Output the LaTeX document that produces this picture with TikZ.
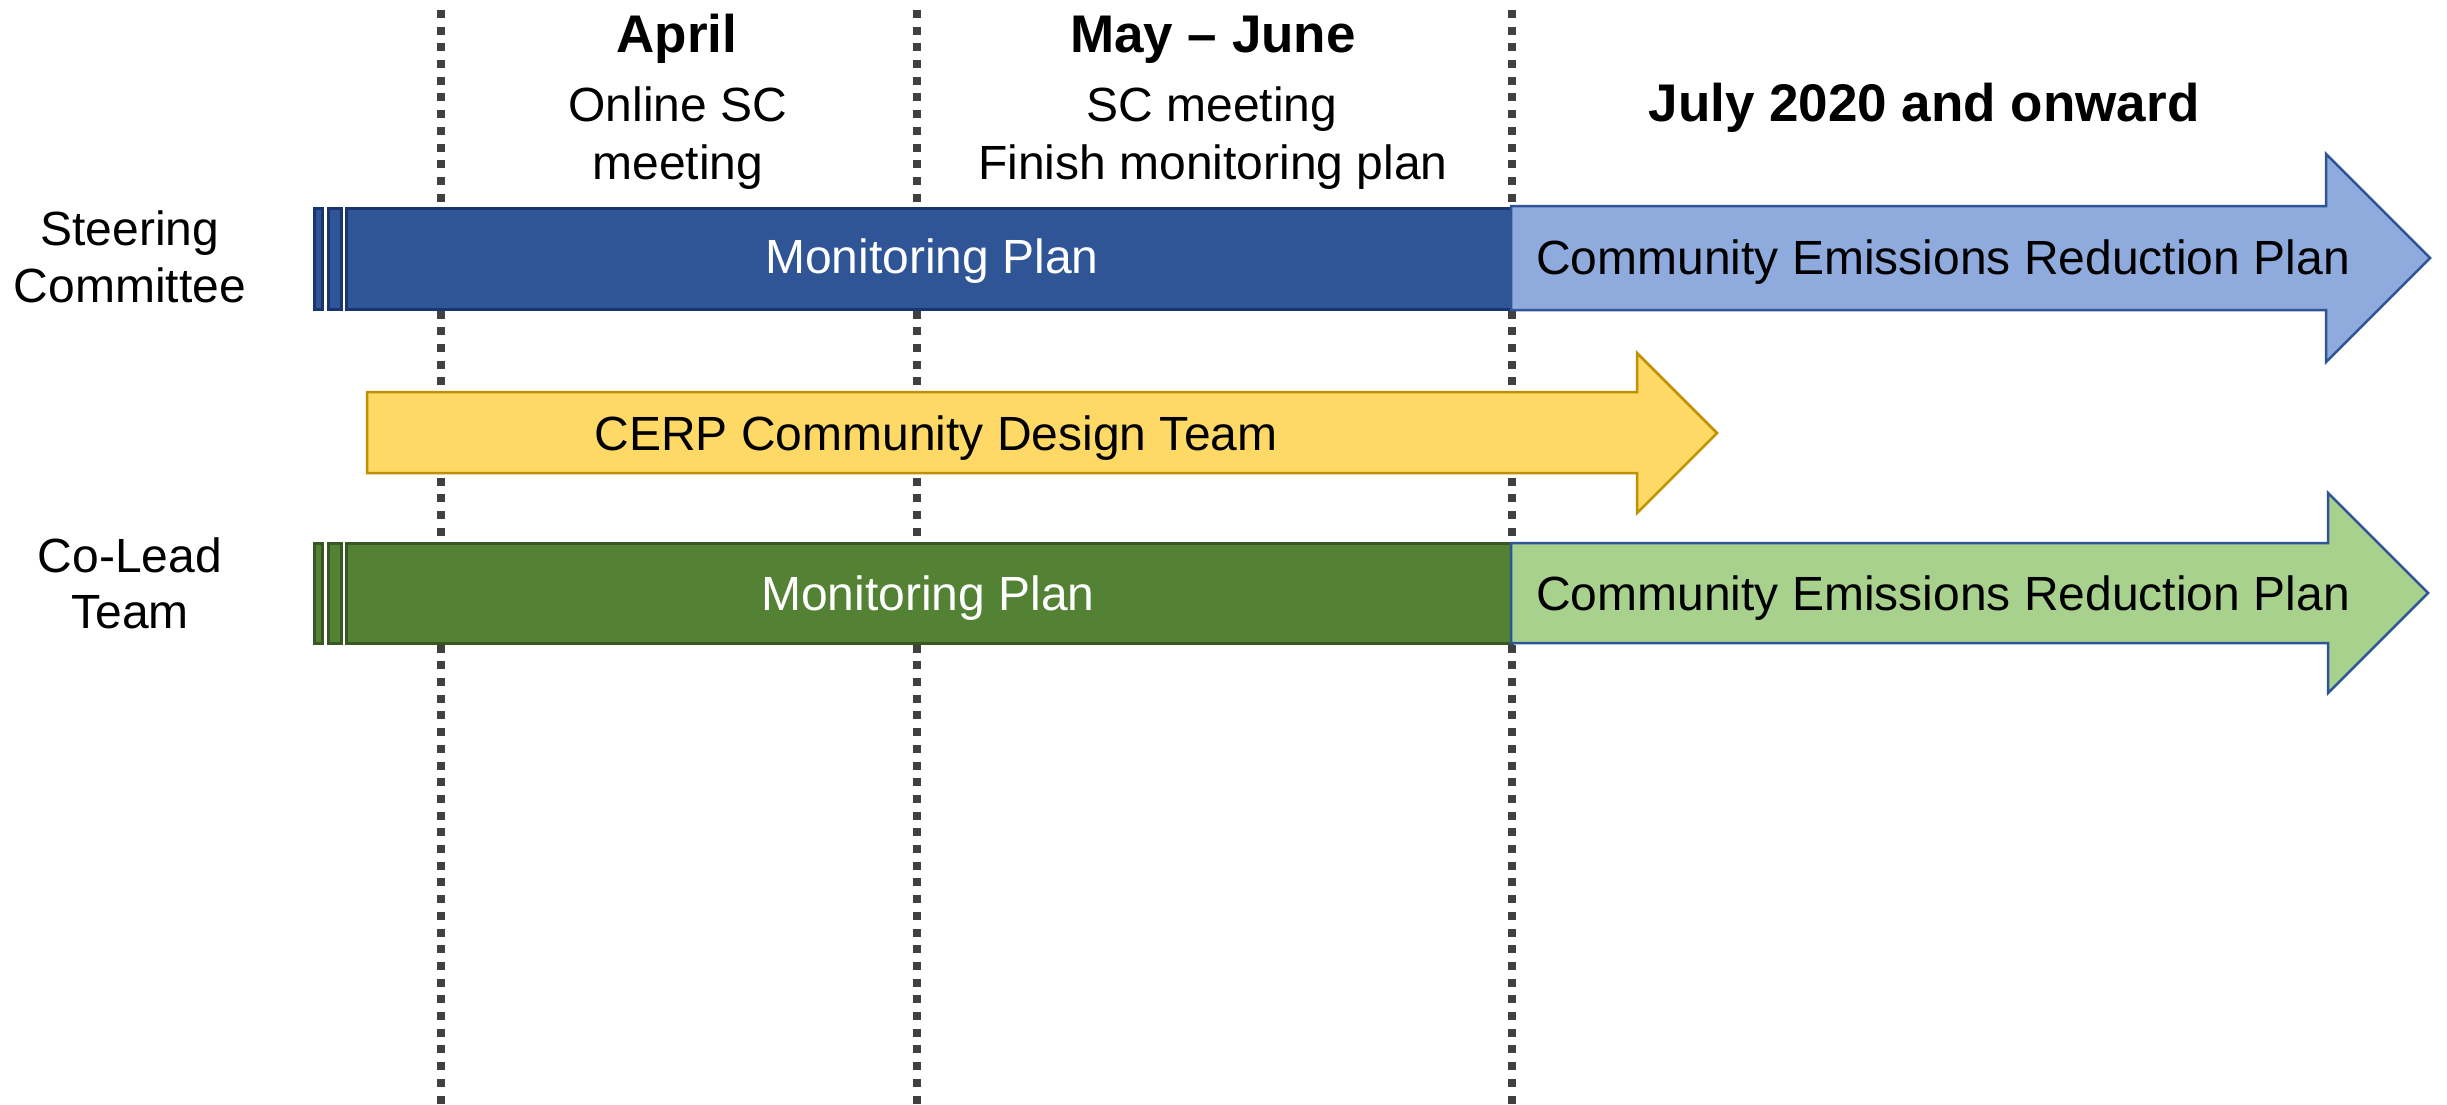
\documentclass[tikz,border=0pt]{standalone}
\usepackage{fontspec}
\setmainfont{Liberation Sans}
\definecolor{dkblue}{HTML}{2F5597}
\definecolor{dkblueline}{HTML}{1A3470}
\definecolor{ltblue}{HTML}{8FAADC}
\definecolor{dkgreen}{HTML}{548235}
\definecolor{dkgreenline}{HTML}{385723}
\definecolor{ltgreen}{HTML}{A9D18E}
\definecolor{ylw}{HTML}{FFD966}
\definecolor{ylwline}{HTML}{BF9000}
\definecolor{dotgray}{HTML}{404040}
\begin{document}
\begin{tikzpicture}[x=1pt,y=-1pt,
  txt/.style={inner sep=0pt,anchor=base,font=\fontsize{48}{57}\selectfont},
  hdr/.style={inner sep=0pt,anchor=base,font=\fontsize{53}{62}\selectfont\bfseries},
  dotline/.style={draw=dotgray,line width=8pt,dash pattern=on 8pt off 8.7pt},
  bluebar/.style={fill=dkblue,draw=dkblueline,line width=3pt},
  greenbar/.style={fill=dkgreen,draw=dkgreenline,line width=3pt},
  bluearrow/.style={fill=ltblue,draw=dkblue,line width=2.5pt,line join=miter},
  greenarrow/.style={fill=ltgreen,draw=dkblue,line width=2.5pt,line join=miter},
  yellowarrow/.style={fill=ylw,draw=ylwline,line width=2.5pt,line join=miter}]
\useasboundingbox (0,0) rectangle (2447,1105);
\fill[white] (0,0) rectangle (2447,1105);

% dotted time dividers
\draw[dotline] (441,10) -- (441,1105);
\draw[dotline] (917,10) -- (917,1105);
\draw[dotline] (1512,10) -- (1512,1105);

% Steering committee row
\draw[bluebar] (314,208) rectangle (322,309);
\draw[bluebar] (328,208) rectangle (341,309);
\draw[bluebar] (346,208) rectangle (1512,309);
\draw[bluearrow] (1511,206) -- (2326,206) -- (2326,154) -- (2430,258) -- (2326,362) -- (2326,310) -- (1511,310) -- cycle;

% CERP design team
\draw[yellowarrow] (367,392) -- (1637,392) -- (1637,353) -- (1717,433) -- (1637,513) -- (1637,473) -- (367,473) -- cycle;

% Co-Lead row
\draw[greenbar] (314,543) rectangle (322,643);
\draw[greenbar] (328,543) rectangle (341,643);
\draw[greenbar] (346,543) rectangle (1512,643);
\draw[greenarrow] (1511,543) -- (2328,543) -- (2328,493) -- (2428,593) -- (2328,693) -- (2328,643) -- (1511,643) -- cycle;

% row labels
\node[txt] (sc1) at (130,245) {Steering};
\node[txt] (sc2) at (130,302) {Committee};
\node[txt] (cl1) at (130,572) {Co-Lead};
\node[txt] (cl2) at (130,628) {Team};

% headings
\node[hdr] (apr) at (677,53) {April};
\node[txt] (apr1) at (678,122) {Online SC};
\node[txt] (apr2) at (678,179) {meeting};
\node[hdr] (mj) at (1213,53) {May – June};
\node[txt] (mj1) at (1212,122) {SC meeting};
\node[txt] (mj2) at (1213,179) {Finish monitoring plan};
\node[hdr] (jul) at (1924,122) {July 2020 and onward};

% bar texts
\node[txt,text=white] (mp1) at (932,273) {Monitoring Plan};
\node[txt] (cerp1) at (1943,274) {Community Emissions Reduction Plan};
\node[txt] (cdt) at (936,450) {CERP Community Design Team};
\node[txt,text=white] (mp2) at (928,610) {Monitoring Plan};
\node[txt] (cerp2) at (1943,610) {Community Emissions Reduction Plan};
\end{tikzpicture}
\end{document}
